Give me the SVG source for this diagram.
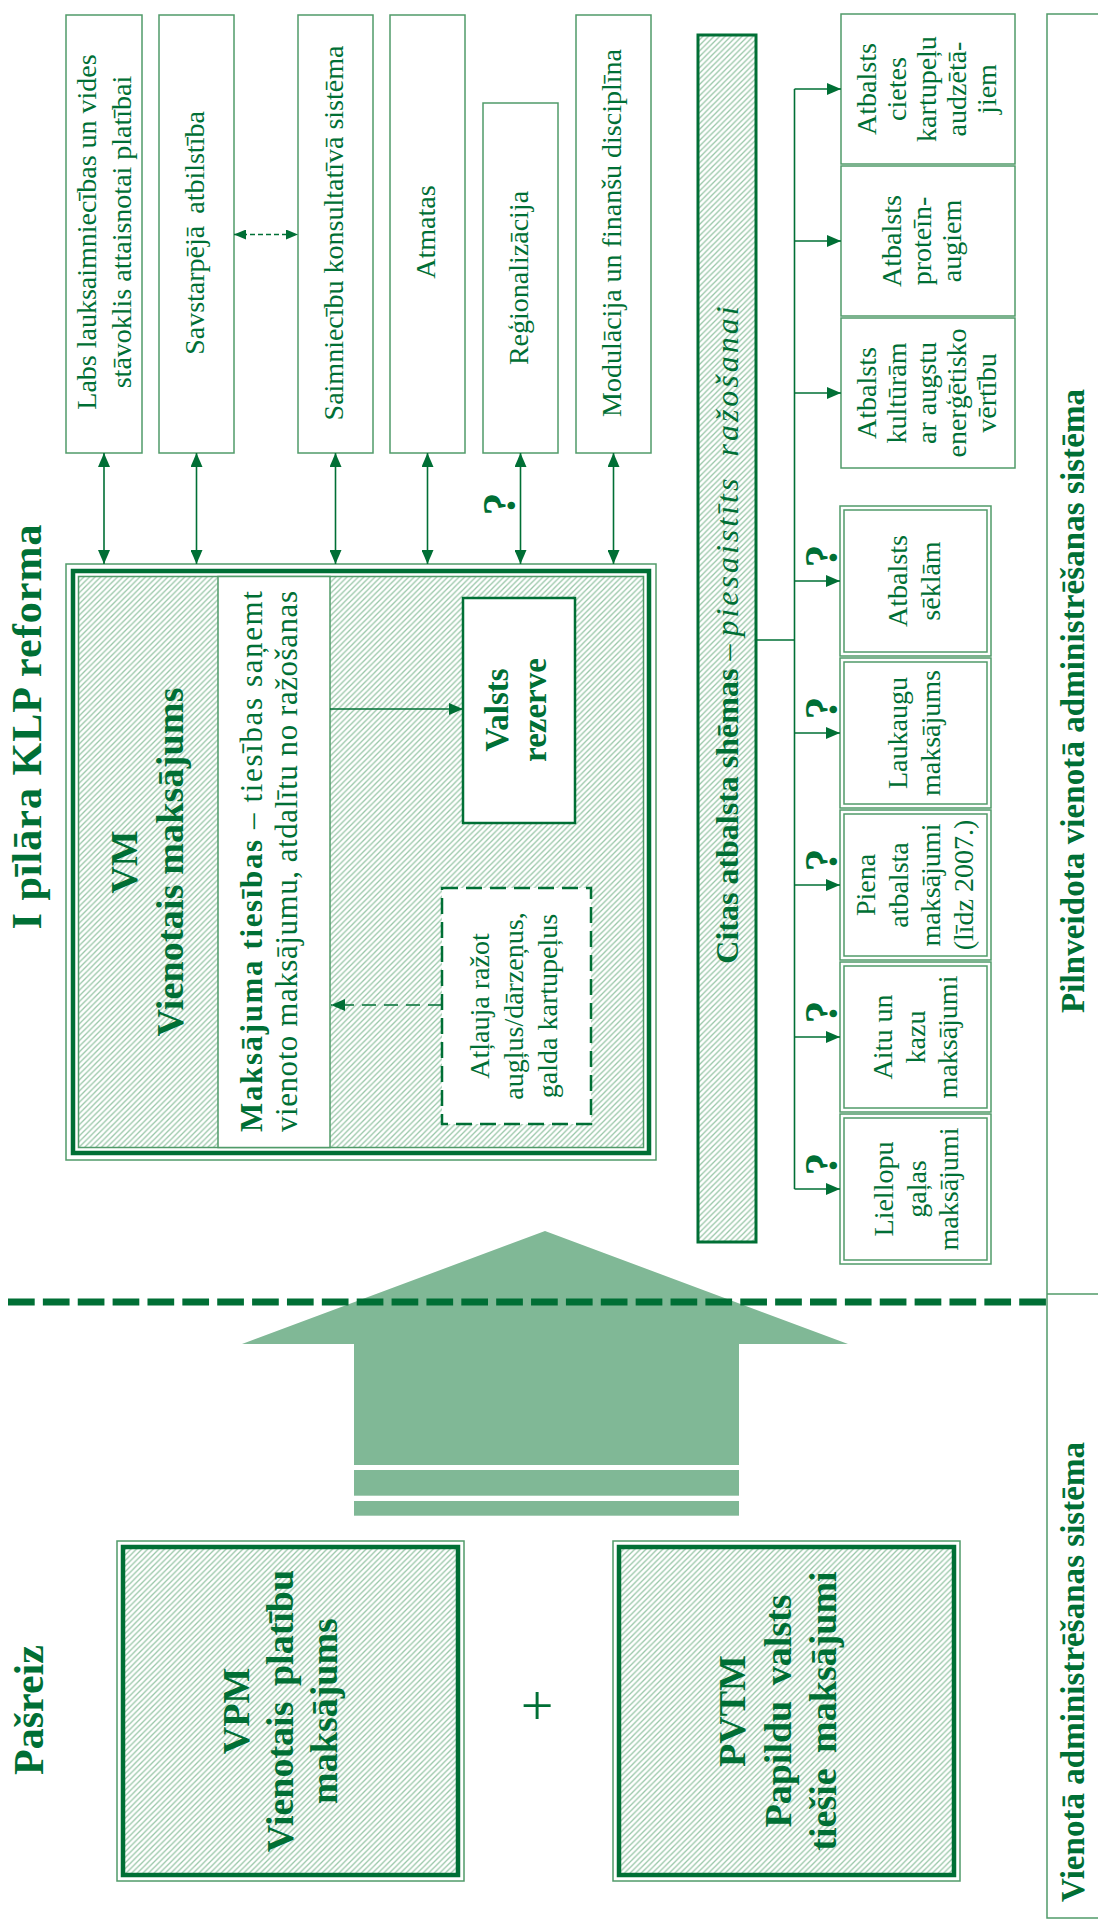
<svg xmlns="http://www.w3.org/2000/svg" width="1098" height="1919" viewBox="0 0 1098 1919">
<defs>
<style>
text{font-family:"Liberation Serif","Times New Roman",serif;fill:#006f35}
.b{font-weight:bold}
.t28{font-size:28px}
.thin{fill:#fff;stroke:#509b69;stroke-width:1.5}
.thinh{fill:url(#hatch);stroke:#509b69;stroke-width:1.5}
.thinn{fill:none;stroke:#509b69;stroke-width:1.5}
.thick{fill:none;stroke:#006f35;stroke-width:4.5}
.con{stroke:#006f35;stroke-width:1.6;fill:none}
</style>
<pattern id="hatch" patternUnits="userSpaceOnUse" width="5.6" height="5.6">
<rect width="5.6" height="5.6" fill="#fff"/>
<path d="M-1,1 L1,-1 M0,5.6 L5.6,0 M4.6,6.6 L6.6,4.6" stroke="#98c6a7" stroke-width="1.3"/>
</pattern>
<marker id="ah" viewBox="0 0 14 12" refX="14" refY="6" markerWidth="14" markerHeight="12" markerUnits="userSpaceOnUse" orient="auto-start-reverse">
<path d="M0,0 L14,6 L0,12 z" fill="#006f35"/>
</marker>
<marker id="ahs" viewBox="0 0 12 10" refX="12" refY="5" markerWidth="12" markerHeight="10" markerUnits="userSpaceOnUse" orient="auto-start-reverse">
<path d="M0,0 L12,5 L0,10 z" fill="#006f35"/>
</marker>
</defs>
<rect width="1098" height="1919" fill="#fff"/>

<!-- titles -->
<g id="title-reform"><text class="b" font-size="42" transform="translate(41,727) rotate(-90)" text-anchor="middle" textLength="405" lengthAdjust="spacing">I pīlāra KLP reforma</text></g>
<g id="title-now"><text class="b" font-size="42" transform="translate(43,1710) rotate(-90)" text-anchor="middle">Pašreiz</text></g>

<!-- top boxes -->
<g id="box-labs"><rect class="thin" x="66" y="15" width="76" height="438"/>
<text class="t28" transform="translate(95.5,232) rotate(-90)" text-anchor="middle"><tspan x="0" dy="0">Labs lauksaimniecības un vides</tspan><tspan x="0" dy="35">stāvoklis attaisnotai platībai</tspan></text></g>
<g id="box-savst"><rect class="thin" x="159" y="15" width="75" height="438"/>
<text class="t28" transform="translate(203.5,233) rotate(-90)" text-anchor="middle" word-spacing="5">Savstarpējā atbilstība</text></g>
<g id="box-saimn"><rect class="thin" x="298" y="15" width="75" height="438"/>
<text class="t28" transform="translate(343,233) rotate(-90)" text-anchor="middle">Saimniecību konsultatīvā sistēma</text></g>
<g id="box-atmatas"><rect class="thin" x="390" y="15" width="75" height="438"/>
<text class="t28" transform="translate(435,232) rotate(-90)" text-anchor="middle">Atmatas</text></g>
<g id="box-region"><rect class="thin" x="483" y="103" width="75" height="350"/>
<text class="t28" transform="translate(527.5,278) rotate(-90)" text-anchor="middle">Reģionalizācija</text></g>
<g id="box-modul"><rect class="thin" x="576" y="15" width="75" height="438"/>
<text class="t28" transform="translate(621,233) rotate(-90)" text-anchor="middle">Modulācija un finanšu disciplīna</text></g>

<!-- VM box -->
<g id="box-vm">
<rect class="thinn" x="66" y="564" width="590" height="596"/>
<rect class="thick" x="73" y="571" width="576" height="582"/>
<rect class="thinh" x="78.5" y="576.5" width="565" height="571"/>
<rect class="thin" x="218" y="576.5" width="112" height="571"/>
<text class="b" font-size="38" transform="translate(137,862) rotate(-90)" text-anchor="middle"><tspan x="0" dy="0">VM</tspan><tspan x="0" dy="46" textLength="349" lengthAdjust="spacing">Vienotais maksājums</tspan></text>
<text font-size="31" transform="translate(262,861.5) rotate(-90)" text-anchor="middle" textLength="541" lengthAdjust="spacing"><tspan class="b">Maksājuma tiesības</tspan> – tiesības saņemt</text>
<text font-size="31" transform="translate(297,861.5) rotate(-90)" text-anchor="middle" textLength="541" lengthAdjust="spacing">vienoto maksājumu, atdalītu no ražošanas</text>
</g>
<g id="box-valsts"><rect x="463" y="598" width="112" height="225" fill="#fff" stroke="#006f35" stroke-width="2.5"/>
<text class="b" font-size="33" transform="translate(508,710) rotate(-90)" text-anchor="middle"><tspan x="0" dy="0">Valsts</tspan><tspan x="0" dy="38">rezerve</tspan></text></g>
<g id="box-atlauja"><rect x="442" y="888" width="149" height="236" fill="#fff" stroke="#006f35" stroke-width="2.5" stroke-dasharray="16,8"/>
<text class="t28" transform="translate(489,1006) rotate(-90)" text-anchor="middle"><tspan x="0" dy="0">Atļauja ražot</tspan><tspan x="0" dy="33.5">augļus/dārzeņus,</tspan><tspan x="0" dy="34">galda kartupeļus</tspan></text></g>

<!-- Citas bar -->
<g id="bar-citas"><rect x="698" y="35" width="58" height="1207" fill="url(#hatch)" stroke="#006f35" stroke-width="3"/>
<text font-size="32" transform="translate(738,633.5) rotate(-90)" text-anchor="middle"><tspan class="b">Citas atbalsta shēmas</tspan> – <tspan font-style="italic" letter-spacing="3" word-spacing="8">piesaistīts ražošanai</tspan></text></g>

<!-- right top boxes -->
<g id="box-cietes"><rect class="thin" x="841" y="14" width="174" height="150"/>
<text class="t28" transform="translate(876,89) rotate(-90)" text-anchor="middle"><tspan x="0" dy="0">Atbalsts</tspan><tspan x="0" dy="30">cietes</tspan><tspan x="0" dy="30">kartupeļu</tspan><tspan x="0" dy="30">audzētā-</tspan><tspan x="0" dy="30">jiem</tspan></text></g>
<g id="box-protein"><rect class="thin" x="841" y="166" width="174" height="150"/>
<text class="t28" transform="translate(901,241) rotate(-90)" text-anchor="middle"><tspan x="0" dy="0">Atbalsts</tspan><tspan x="0" dy="30">proteīn-</tspan><tspan x="0" dy="30">augiem</tspan></text></g>
<g id="box-kultur"><rect class="thin" x="841" y="318" width="174" height="150"/>
<text class="t28" transform="translate(876,393) rotate(-90)" text-anchor="middle"><tspan x="0" dy="0">Atbalsts</tspan><tspan x="0" dy="30">kultūrām</tspan><tspan x="0" dy="30">ar augstu</tspan><tspan x="0" dy="30">enerģētisko</tspan><tspan x="0" dy="30">vērtību</tspan></text></g>

<!-- lower boxes -->
<g id="box-seklam"><rect class="thin" x="840" y="506" width="151" height="150"/><rect class="thinn" x="844" y="510" width="143" height="142"/>
<text class="t28" transform="translate(907,581) rotate(-90)" text-anchor="middle"><tspan x="0" dy="0">Atbalsts</tspan><tspan x="0" dy="33">sēklām</tspan></text></g>
<g id="box-laukaugu"><rect class="thin" x="840" y="658" width="151" height="150"/><rect class="thinn" x="844" y="662" width="143" height="142"/>
<text class="t28" transform="translate(907,733) rotate(-90)" text-anchor="middle"><tspan x="0" dy="0">Laukaugu</tspan><tspan x="0" dy="33">maksājums</tspan></text></g>
<g id="box-piena"><rect class="thin" x="840" y="810" width="151" height="150"/><rect class="thinn" x="844" y="814" width="143" height="142"/>
<text class="t28" transform="translate(875,885) rotate(-90)" text-anchor="middle"><tspan x="0" dy="0">Piena</tspan><tspan x="0" dy="32.5">atbalsta</tspan><tspan x="0" dy="32.5">maksājumi</tspan><tspan x="0" dy="32.5">(līdz 2007.)</tspan></text></g>
<g id="box-aitu"><rect class="thin" x="840" y="962" width="151" height="150"/><rect class="thinn" x="844" y="966" width="143" height="142"/>
<text class="t28" transform="translate(892,1037) rotate(-90)" text-anchor="middle"><tspan x="0" dy="0">Aitu un</tspan><tspan x="0" dy="32.5">kazu</tspan><tspan x="0" dy="32.5">maksājumi</tspan></text></g>
<g id="box-liellopu"><rect class="thin" x="840" y="1114" width="151" height="150"/><rect class="thinn" x="844" y="1118" width="143" height="142"/>
<text class="t28" transform="translate(893,1189) rotate(-90)" text-anchor="middle"><tspan x="0" dy="0">Liellopu</tspan><tspan x="0" dy="32.5">gaļas</tspan><tspan x="0" dy="32.5">maksājumi</tspan></text></g>

<!-- right big box -->
<g id="box-admin"><rect class="thinn" x="1047" y="14" width="70" height="1904"/>
<line x1="1047" y1="1294" x2="1098" y2="1294" stroke="#509b69" stroke-width="1.5"/>
<text class="b" font-size="33" transform="translate(1084,701) rotate(-90)" text-anchor="middle" textLength="624" lengthAdjust="spacing">Pilnveidota vienotā administrēšanas sistēma</text>
<text class="b" font-size="33" transform="translate(1084,1672) rotate(-90)" text-anchor="middle" textLength="460" lengthAdjust="spacing">Vienotā administrēšanas sistēma</text></g>

<!-- big arrow -->
<g id="big-arrow" fill="#80b896">
<polygon points="545,1231 848,1344 739,1344 739,1465 354,1465 354,1344 242,1344"/>
<rect x="354" y="1470" width="385" height="25.7"/>
<rect x="354" y="1501" width="385" height="14.7"/>
</g>
<g id="divider"><line x1="8" y1="1302" x2="1046" y2="1302" stroke="#006f35" stroke-width="7" stroke-dasharray="26.7 8.17"/></g>

<!-- VPM / PVTM -->
<g id="box-vpm"><rect class="thinn" x="117" y="1541" width="347" height="340"/>
<rect x="123" y="1547" width="335" height="328" fill="url(#hatch)" stroke="#006f35" stroke-width="4.5"/>
<text class="b" font-size="38" transform="translate(249,1711) rotate(-90)" text-anchor="middle"><tspan x="0" dy="0">VPM</tspan><tspan x="0" dy="44" word-spacing="6">Vienotais platību</tspan><tspan x="0" dy="44">maksājums</tspan></text></g>
<g id="plus"><text font-size="58" x="537" y="1725" text-anchor="middle">+</text></g>
<g id="box-pvtm"><rect class="thinn" x="613" y="1541" width="347" height="340"/>
<rect x="619" y="1547" width="335" height="328" fill="url(#hatch)" stroke="#006f35" stroke-width="4.5"/>
<text class="b" font-size="38" transform="translate(745,1711) rotate(-90)" text-anchor="middle"><tspan x="0" dy="0">PVTM</tspan><tspan x="0" dy="45.5" word-spacing="6">Papildu valsts</tspan><tspan x="0" dy="45.5" word-spacing="6">tiešie maksājumi</tspan></text></g>

<!-- connectors -->
<g id="connectors">
<line class="con" x1="104" y1="453" x2="104" y2="564" marker-start="url(#ah)" marker-end="url(#ah)"/>
<line class="con" x1="196.5" y1="453" x2="196.5" y2="564" marker-start="url(#ah)" marker-end="url(#ah)"/>
<line class="con" x1="335.5" y1="453" x2="335.5" y2="564" marker-start="url(#ah)" marker-end="url(#ah)"/>
<line class="con" x1="427.5" y1="453" x2="427.5" y2="564" marker-start="url(#ah)" marker-end="url(#ah)"/>
<line class="con" x1="520.5" y1="453" x2="520.5" y2="564" marker-start="url(#ah)" marker-end="url(#ah)"/>
<line class="con" x1="613.5" y1="453" x2="613.5" y2="564" marker-start="url(#ah)" marker-end="url(#ah)"/>
<line class="con" x1="234" y1="234.5" x2="298" y2="234.5" stroke-dasharray="5,3" marker-start="url(#ahs)" marker-end="url(#ahs)"/>
<line class="con" x1="330" y1="709" x2="463" y2="709" marker-end="url(#ah)"/>
<line class="con" x1="442" y1="1005" x2="331" y2="1005" stroke-width="2" stroke-dasharray="14,8" marker-end="url(#ah)"/>
<polyline class="con" points="757,640 794.5,640"/>
<line class="con" x1="794.5" y1="89" x2="794.5" y2="1189"/>
<line class="con" x1="794.5" y1="89" x2="841" y2="89" marker-end="url(#ah)"/>
<line class="con" x1="794.5" y1="241" x2="841" y2="241" marker-end="url(#ah)"/>
<line class="con" x1="794.5" y1="393" x2="841" y2="393" marker-end="url(#ah)"/>
<line class="con" x1="794.5" y1="581" x2="840" y2="581" marker-end="url(#ah)"/>
<line class="con" x1="794.5" y1="733" x2="840" y2="733" marker-end="url(#ah)"/>
<line class="con" x1="794.5" y1="885" x2="840" y2="885" marker-end="url(#ah)"/>
<line class="con" x1="794.5" y1="1037" x2="840" y2="1037" marker-end="url(#ah)"/>
<line class="con" x1="794.5" y1="1189" x2="840" y2="1189" marker-end="url(#ah)"/>
<g class="b" font-size="46" text-anchor="middle">
<text transform="translate(515,504) rotate(-90)">?</text>
<text transform="translate(837,556) rotate(-90)">?</text>
<text transform="translate(837,708) rotate(-90)">?</text>
<text transform="translate(837,860) rotate(-90)">?</text>
<text transform="translate(837,1012) rotate(-90)">?</text>
<text transform="translate(837,1164) rotate(-90)">?</text>
</g>
</g>
</svg>
